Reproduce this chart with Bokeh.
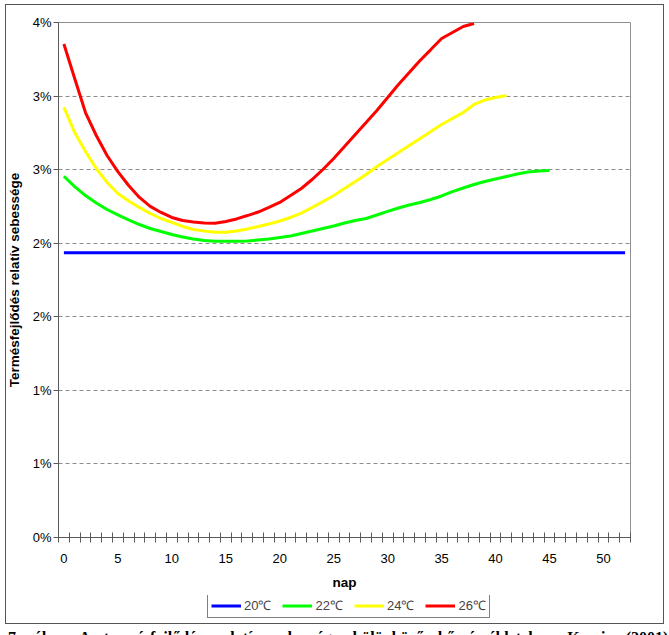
from bokeh.plotting import figure
from bokeh.models import (FixedTicker, Legend, LegendItem, Range1d, Div)
from bokeh.layouts import column
from bokeh.embed import file_html
from bokeh.resources import INLINE

# ---- data (values in %) ----
days = list(range(53))
blue_20 = [1.936, 1.936, 1.936, 1.936, 1.936, 1.936, 1.936, 1.936, 1.936, 1.936,
           1.936, 1.936, 1.936, 1.936, 1.936, 1.936, 1.936, 1.936, 1.936, 1.936,
           1.936, 1.936, 1.936, 1.936, 1.936, 1.936, 1.936, 1.936, 1.936, 1.936,
           1.936, 1.936, 1.936, 1.936, 1.936, 1.936, 1.936, 1.936, 1.936, 1.936,
           1.936, 1.936, 1.936, 1.936, 1.936, 1.936, 1.936, 1.936, 1.936, 1.936,
           1.936, 1.936, 1.936]
green_22 = [2.455, 2.385, 2.324, 2.273, 2.229, 2.192, 2.158, 2.127, 2.100, 2.080,
            2.059, 2.042, 2.029, 2.018, 2.014, 2.014, 2.014, 2.015, 2.022, 2.029,
            2.039, 2.049, 2.066, 2.083, 2.100, 2.117, 2.137, 2.154, 2.168, 2.192,
            2.216, 2.239, 2.260, 2.277, 2.297, 2.321, 2.351, 2.375, 2.399, 2.419,
            2.436, 2.453, 2.470, 2.484, 2.491, 2.494]
yellow_24 = [2.924, 2.752, 2.623, 2.508, 2.413, 2.338, 2.287, 2.243, 2.202, 2.168,
             2.141, 2.114, 2.093, 2.083, 2.075, 2.075, 2.083, 2.097, 2.114, 2.131,
             2.151, 2.175, 2.205, 2.243, 2.283, 2.324, 2.372, 2.419, 2.467, 2.521,
             2.569, 2.616, 2.664, 2.712, 2.759, 2.807, 2.848, 2.888, 2.943, 2.973,
             2.990, 3.004]
red_26 = [3.354, 3.119, 2.888, 2.732, 2.596, 2.487, 2.392, 2.311, 2.250, 2.209,
          2.175, 2.154, 2.144, 2.137, 2.136, 2.148, 2.165, 2.188, 2.212, 2.243,
          2.277, 2.324, 2.372, 2.433, 2.501, 2.576, 2.657, 2.739, 2.820, 2.902,
          2.990, 3.079, 3.160, 3.242, 3.316, 3.391, 3.432, 3.473, 3.493]
series_names = ["20\u2103", "22\u2103", "24\u2103", "26\u2103"]
y_tick_values = [0.0, 0.5, 1.0, 1.5, 2.0, 2.5, 3.0, 3.5]
y_tick_labels = ["0%", "1%", "1%", "2%", "2%", "3%", "3%", "4%"]
x_label_days = [0, 5, 10, 15, 20, 25, 30, 35, 40, 45, 50]
y_title = "Termésfejlődés relatív sebessége"
x_title = "nap"
caption = "7. ábra  A termésfejlődés relatív sebessége különböző hőmérsékleteken  Kocsis (2001)"

FONT = "Liberation Sans"
AXIS_COL = "#5a5a5a"
colors = ["#0000FF", "#00FF00", "#FFFF00", "#FF0000"]
all_series = [blue_20, green_22, yellow_24, red_26]

p = figure(frame_width=572, frame_height=515, x_range=Range1d(-0.5, 52.5), y_range=Range1d(0, 3.5),
           output_backend="svg", toolbar_location=None,
           min_border_left=58, min_border_right=33, min_border_top=22, min_border_bottom=58)
p.background_fill_color = "white"
p.border_fill_color = "white"
p.outline_line_color = "#909090"
p.outline_line_width = 1

# y axis
p.yaxis.ticker = FixedTicker(ticks=y_tick_values, minor_ticks=[])
p.yaxis.major_label_overrides = {v: s for v, s in zip(y_tick_values, y_tick_labels)}
p.yaxis.major_tick_out = 5
p.yaxis.major_tick_in = 0
p.yaxis.minor_tick_out = 0
p.yaxis.minor_tick_in = 0
p.yaxis.major_label_standoff = 2
p.yaxis.axis_line_color = AXIS_COL
p.yaxis.major_tick_line_color = AXIS_COL
p.yaxis.major_label_text_font = FONT
p.yaxis.major_label_text_font_size = "13px"
p.yaxis.major_label_text_color = "black"
p.yaxis.axis_label = y_title
p.yaxis.axis_label_text_font = FONT
p.yaxis.axis_label_text_font_size = "13.5px"
p.yaxis.axis_label_text_font_style = "bold"
p.yaxis.axis_label_text_color = "black"
p.yaxis.axis_label_standoff = 8

# x axis
boundaries = [d - 0.5 for d in range(54)]
p.xaxis.ticker = FixedTicker(ticks=x_label_days, minor_ticks=boundaries)
p.xaxis.major_tick_out = 0
p.xaxis.major_tick_in = 0
p.xaxis.minor_tick_out = 5
p.xaxis.minor_tick_in = 5
p.xaxis.minor_tick_line_color = AXIS_COL
p.xaxis.axis_line_color = AXIS_COL
p.xaxis.major_label_standoff = 11
p.xaxis.major_label_text_font = FONT
p.xaxis.major_label_text_font_size = "13px"
p.xaxis.major_label_text_color = "black"
p.xaxis.axis_label = x_title
p.xaxis.axis_label_text_font = FONT
p.xaxis.axis_label_text_font_size = "13.5px"
p.xaxis.axis_label_text_font_style = "bold"
p.xaxis.axis_label_text_color = "black"
p.xaxis.axis_label_standoff = 9

p.xgrid.visible = False
p.ygrid.ticker = FixedTicker(ticks=y_tick_values, minor_ticks=[])
p.ygrid.grid_line_color = "#8c8c8c"
p.ygrid.grid_line_dash = "4 3"
p.ygrid.grid_line_width = 1

for vals, col in zip(all_series, colors):
    p.line(days[:len(vals)], vals, line_color=col, line_width=3)

# ---- legend strip (separate small figure, frame aligned with main plot) ----
lg = figure(width=663, height=28, x_range=Range1d(-0.5, 52.5), y_range=Range1d(10, 11),
            output_backend="svg", toolbar_location=None, x_axis_type=None, y_axis_type=None,
            min_border=0)
lg.outline_line_color = None
lg.grid.visible = False
lg.background_fill_color = "white"
lg.border_fill_color = "white"
legend_renderers = [lg.line(days[:len(vals)], vals, line_color=c, line_width=3)
                    for vals, c in zip(all_series, colors)]
legend = Legend(items=[LegendItem(label=n, renderers=[r]) for n, r in zip(series_names, legend_renderers)],
                orientation="horizontal", location=(149, 5))
legend.label_text_font = FONT
legend.label_text_font_size = "13px"
legend.glyph_width = 30
legend.glyph_height = 15
legend.label_standoff = 3
legend.spacing = 11
legend.padding = 3
legend.margin = 0
legend.label_height = 15
legend.border_line_color = "black"
legend.border_line_width = 1
legend.background_fill_alpha = 1
lg.add_layout(legend, "center")

chart = column(p, lg, spacing=0)

cap_html = (
    '<div style="position:relative; z-index:50; pointer-events:none; margin-top:-624px; '
    'margin-left:0px; width:659px; height:620px; border:1.5px solid #555555;"></div>'
    '<div style="position:relative; z-index:50; padding-top:5px; padding-left:3px; '
    'font-family:\'Liberation Serif\'; font-size:16px; font-weight:bold; word-spacing:10px; '
    'white-space:nowrap; line-height:18px; color:black;">' + caption + '</div>'
)
cap = Div(text=cap_html, width=669, height=11,
          styles={"overflow": "visible"})

layout = column(chart, cap, spacing=0)
open("out.html", "w").write(file_html(layout, INLINE))
